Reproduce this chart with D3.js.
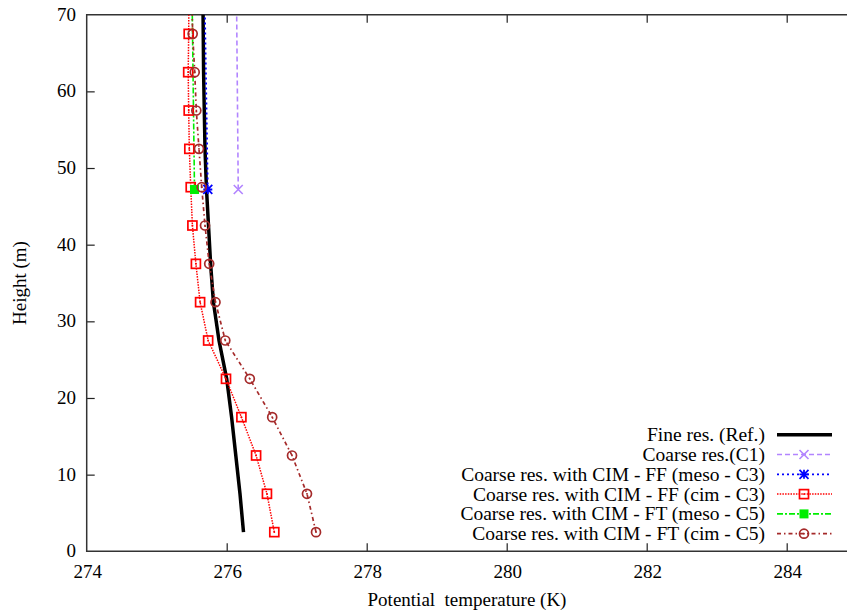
<!DOCTYPE html>
<html>
<head>
<meta charset="utf-8">
<script src="https://d3js.org/d3.v7.min.js"></script>
<style>
  body { margin: 0; background: #fff; }
  svg text { font-family: "Liberation Serif", "DejaVu Serif", serif; fill: #000; }
</style>
</head>
<body>
<div id="chart"></div>
<script>
// heights (m) of the profile points
var heights = [2.5, 7.5, 12.5, 17.5, 22.5, 27.5, 32.5, 37.5, 42.5, 47.5, 52.5, 57.5, 62.5, 67.5, 72.5];

// potential temperature (K) per series
var fineRef   = [276.24, 276.19, 276.13, 276.07, 276.00, 275.89, 275.81, 275.77, 275.74, 275.71, 275.69, 275.68, 275.67, 275.665, 275.66];
var c3Cim     = [276.68, 276.575, 276.42, 276.21, 275.99, 275.735, 275.62, 275.56, 275.51, 275.486, 275.466, 275.457, 275.45, 275.457, 275.46];
var c5Cim     = [277.276, 277.147, 276.933, 276.65, 276.33, 275.98, 275.84, 275.75, 275.69, 275.643, 275.604, 275.566, 275.543, 275.514, 275.50];

// coarse-grid series: one cell centre in view
var coarseHeights = [47.2, 72.5];
var c1Coarse  = [276.165, 276.14];
var c3Meso    = [275.73, 275.685];
var c5Meso    = [275.54, 275.505];

var xTicks = [274, 276, 278, 280, 282, 284];
var yTicks = [0, 10, 20, 30, 40, 50, 60, 70];

var seriesNames = [
  "Fine res. (Ref.)",
  "Coarse res.(C1)",
  "Coarse res. with CIM - FF (meso - C3)",
  "Coarse res. with CIM - FF (cim - C3)",
  "Coarse res. with CIM - FT (meso - C5)",
  "Coarse res. with CIM - FT (cim - C5)"
];

var series = [
  {name: seriesNames[0], h: heights, t: fineRef, color: "#000000", width: 3.5, dash: null, marker: null},
  {name: seriesNames[1], h: coarseHeights, t: c1Coarse, color: "#b285ff", width: 1.6, dash: "5,3", marker: "x"},
  {name: seriesNames[2], h: coarseHeights, t: c3Meso, color: "#0000ff", width: 1.8, dash: "2,3", marker: "star"},
  {name: seriesNames[3], h: heights, t: c3Cim, color: "#ff0000", width: 1.5, dash: "1.5,1.2", marker: "square"},
  {name: seriesNames[4], h: coarseHeights, t: c5Meso, color: "#00ee00", width: 1.6, dash: "6,2,2,2", marker: "fsquare"},
  {name: seriesNames[5], h: heights, t: c5Cim, color: "#a52a2a", width: 1.7, dash: "4,3,1.5,3", marker: "circle"}
];

var W = 847, H = 615;
var plotLeft = 86.7, plotTop = 14.7, plotBottom = 551.3;

var svg = d3.select("#chart").append("svg")
  .attr("width", W)
  .attr("height", H);

// x range continues past the right edge (picture is cut there)
var x = d3.scaleLinear().domain([274, 285]).range([plotLeft, plotLeft + 770]);
var y = d3.scaleLinear().domain([0, 70]).range([plotBottom, plotTop]);

svg.append("defs").append("clipPath")
  .attr("id", "plot-clip")
  .append("rect")
  .attr("x", plotLeft).attr("y", plotTop)
  .attr("width", W - plotLeft).attr("height", plotBottom - plotTop);

// Axes (gnuplot style, ticks pointing inwards)
var xAxisB = d3.axisTop(x).tickValues(xTicks).tickSize(8).tickFormat("");
var xAxisT = d3.axisBottom(x).tickValues(xTicks).tickSize(8).tickFormat("");
var yAxisL = d3.axisRight(y).tickValues(yTicks.slice(1, -1)).tickSize(8).tickFormat("");

svg.append("g").attr("class", "axis").attr("transform", "translate(0," + plotBottom + ")").call(xAxisB);
svg.append("g").attr("class", "axis").attr("transform", "translate(0," + plotTop + ")").call(xAxisT);
svg.append("g").attr("class", "axis").attr("transform", "translate(" + plotLeft + ",0)").call(yAxisL);
svg.selectAll(".axis .domain").remove();
svg.selectAll(".axis .tick line").attr("stroke", "#222").attr("stroke-width", 1.2);
// first x tick sits on the frame
svg.selectAll(".axis .tick").filter(function(d){ return d == 274; }).remove();

// frame
svg.append("path")
  .attr("d", "M" + W + "," + plotTop + "H" + plotLeft + "V" + plotBottom + "H" + W)
  .attr("fill", "none")
  .attr("stroke", "#333")
  .attr("stroke-width", 1.5);

// tick labels
svg.selectAll(".xlab").data(xTicks).enter().append("text")
  .attr("x", function(d){ return x(d) + 1; })
  .attr("y", 578)
  .attr("text-anchor", "middle")
  .style("font-size", "19px")
  .text(function(d){ return d; });

svg.selectAll(".ylab").data(yTicks).enter().append("text")
  .attr("x", 76)
  .attr("y", function(d){ return y(d) + 6; })
  .attr("text-anchor", "end")
  .style("font-size", "19px")
  .text(function(d){ return d; });

// axis titles
svg.append("text")
  .attr("transform", "translate(26," + ((plotTop + plotBottom) / 2) + ")rotate(-90)")
  .attr("text-anchor", "middle")
  .style("font-size", "19px")
  .text("Height (m)");

svg.append("text")
  .attr("x", 467)
  .attr("y", 606)
  .attr("text-anchor", "middle")
  .style("font-size", "19px")
  .style("white-space", "pre")
  .text("Potential  temperature (K)");

// markers
function drawMarker(g, type, cx, cy, color) {
  var s = 4.5;
  if (type == "x") {
    g.append("path")
      .attr("d", "M" + (cx - s) + "," + (cy - s) + "L" + (cx + s) + "," + (cy + s) +
                 "M" + (cx - s) + "," + (cy + s) + "L" + (cx + s) + "," + (cy - s))
      .attr("stroke", color).attr("stroke-width", 1.6).attr("fill", "none");
  } else if (type == "star") {
    g.append("path")
      .attr("d", "M" + (cx - s) + "," + (cy - s) + "L" + (cx + s) + "," + (cy + s) +
                 "M" + (cx - s) + "," + (cy + s) + "L" + (cx + s) + "," + (cy - s) +
                 "M" + (cx - s) + "," + cy + "L" + (cx + s) + "," + cy +
                 "M" + cx + "," + (cy - s) + "L" + cx + "," + (cy + s))
      .attr("stroke", color).attr("stroke-width", 1.8).attr("fill", "none");
  } else if (type == "square") {
    g.append("rect")
      .attr("x", cx - s).attr("y", cy - s).attr("width", 2 * s).attr("height", 2 * s)
      .attr("stroke", color).attr("stroke-width", 1.7).attr("fill", "none");
    g.append("rect")
      .attr("x", cx - 0.8).attr("y", cy - 0.8).attr("width", 1.6).attr("height", 1.6)
      .attr("fill", color);
  } else if (type == "fsquare") {
    g.append("rect")
      .attr("x", cx - s).attr("y", cy - s).attr("width", 2 * s).attr("height", 2 * s)
      .attr("fill", color);
  } else if (type == "circle") {
    g.append("circle")
      .attr("cx", cx).attr("cy", cy).attr("r", s)
      .attr("stroke", color).attr("stroke-width", 1.7).attr("fill", "none");
    g.append("rect")
      .attr("x", cx - 0.8).attr("y", cy - 0.8).attr("width", 1.6).attr("height", 1.6)
      .attr("fill", color);
  }
}

var plot = svg.append("g").attr("clip-path", "url(#plot-clip)");

var line = d3.line()
  .x(function(d){ return x(d[0]); })
  .y(function(d){ return y(d[1]); });

series.forEach(function(s) {
  var pts = s.t.map(function(t, i){ return [t, s.h[i]]; });
  plot.append("path")
    .datum(pts)
    .attr("d", line)
    .attr("fill", "none")
    .attr("stroke", s.color)
    .attr("stroke-width", s.width)
    .attr("stroke-dasharray", s.dash);
});

// markers drawn after lines
series.forEach(function(s) {
  if (!s.marker) return;
  s.t.forEach(function(t, i) {
    drawMarker(plot, s.marker, x(t), y(s.h[i]), s.color);
  });
});

// legend
var legY0 = 434.7, legStep = 19.8;
series.forEach(function(s, i) {
  var ly = legY0 + i * legStep;
  svg.append("text")
    .attr("x", 765)
    .attr("y", ly + 6.5)
    .attr("text-anchor", "end")
    .style("font-size", "19.5px")
    .text(s.name);
  svg.append("line")
    .attr("x1", 777).attr("x2", 832)
    .attr("y1", ly).attr("y2", ly)
    .attr("stroke", s.color)
    .attr("stroke-width", s.width)
    .attr("stroke-dasharray", s.dash);
  if (s.marker) drawMarker(svg, s.marker, 804, ly, s.color);
});
</script>
</body>
</html>
